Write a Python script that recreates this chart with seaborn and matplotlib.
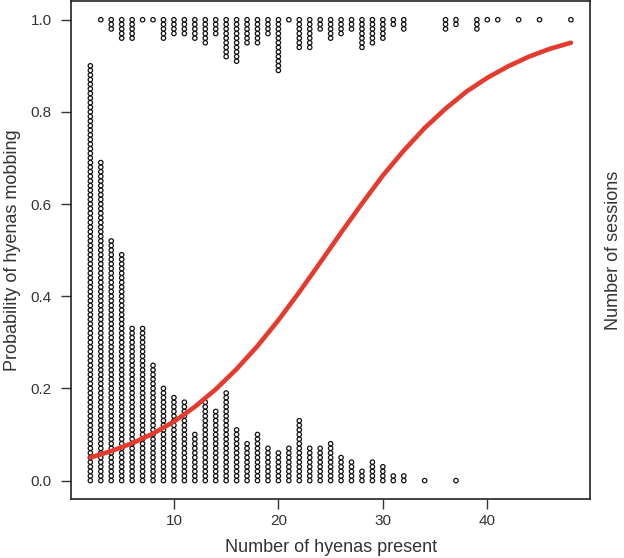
import pandas as pd
import seaborn as sns
import matplotlib.pyplot as plt

sns.set_theme(style='white')
plt.rcParams['font.family'] = ['Liberation Sans', 'DejaVu Sans']

# sessions where hyenas did not mob (stacked up from 0)
hyenas_no = [2, 3, 4, 5, 6, 7, 8, 9, 10, 11, 12, 13, 14, 15, 16, 17, 18, 19, 20,
             21, 22, 23, 24, 25, 26, 27, 28, 29, 30, 31, 32, 34, 37]
sessions_no = [91, 70, 53, 50, 34, 34, 26, 21, 19, 18, 11, 18, 16, 20, 12, 9, 11, 8, 7,
               8, 14, 8, 8, 9, 6, 5, 3, 5, 4, 2, 2, 1, 1]

# sessions where hyenas mobbed (hanging down from 1)
hyenas_yes = [3, 4, 5, 6, 7, 8, 9, 10, 11, 12, 13, 14, 15, 16, 17, 18, 19, 20, 21,
              22, 23, 24, 25, 26, 27, 28, 29, 30, 31, 32, 36, 37, 39, 40, 41, 43, 45, 48]
sessions_yes = [1, 3, 5, 5, 1, 1, 5, 4, 4, 5, 6, 4, 9, 10, 6, 6, 4, 12, 1,
                7, 7, 3, 5, 4, 3, 7, 6, 5, 2, 3, 3, 2, 3, 1, 1, 1, 1, 1]

# fitted logistic curve
curve_x = [2, 4, 6, 8, 10, 12, 14, 16, 18, 20, 22, 24, 26, 28, 30, 32, 34, 36, 38, 40,
           42, 44, 46, 48]
curve_p = [0.050, 0.064, 0.081, 0.102, 0.128, 0.160, 0.198, 0.242, 0.292, 0.348, 0.409,
           0.473, 0.538, 0.601, 0.662, 0.716, 0.765, 0.807, 0.844, 0.874, 0.899, 0.920,
           0.937, 0.950]

step = 0.01  # height of one session dot
rows = []
for x, n in zip(hyenas_no, sessions_no):
    for k in range(n):
        rows.append((x, k * step))
for x, n in zip(hyenas_yes, sessions_yes):
    for k in range(n):
        rows.append((x, 1 - k * step))
dots = pd.DataFrame(rows, columns=['hyenas', 'prob'])

fig = plt.figure(figsize=(6.24, 5.58), dpi=100)
ax = fig.add_axes([0.114, 0.1057, 0.8317, 0.892])

sns.scatterplot(data=dots, x='hyenas', y='prob', marker='o', s=10,
                facecolor='none', edgecolor='#111111', linewidth=0.9, ax=ax, zorder=2)
sns.lineplot(x=curve_x, y=curve_p, color='#e53a2e', linewidth=3.3, ax=ax, zorder=3)

ax.set_xlim(0.16, 49.84)
ax.set_ylim(-0.04, 1.04)
ax.set_xticks([10, 20, 30, 40])
ax.set_yticks([0, 0.2, 0.4, 0.6, 0.8, 1.0])
ax.set_yticklabels(['0.0', '0.2', '0.4', '0.6', '0.8', '1.0'])
ax.tick_params(bottom=True, left=True, direction='out', length=7, width=1,
               colors='#333333', labelsize=11)
ax.tick_params(axis='x', pad=4)
ax.tick_params(axis='y', pad=7)
for sp in ax.spines.values():
    sp.set_color('#222222')
    sp.set_linewidth(1.2)

ax.set_xlabel('Number of hyenas present', fontsize=13, color='#333333', labelpad=8)
ax.set_ylabel('Probability of hyenas mobbing', fontsize=13, color='#333333', labelpad=7)

ax2 = ax.twinx()
ax2.set_yticks([])
ax2.set_ylabel('Number of sessions', fontsize=13, color='#333333', labelpad=11)
for sp in ax2.spines.values():
    sp.set_visible(False)

fig.savefig('out.png', dpi=100)
